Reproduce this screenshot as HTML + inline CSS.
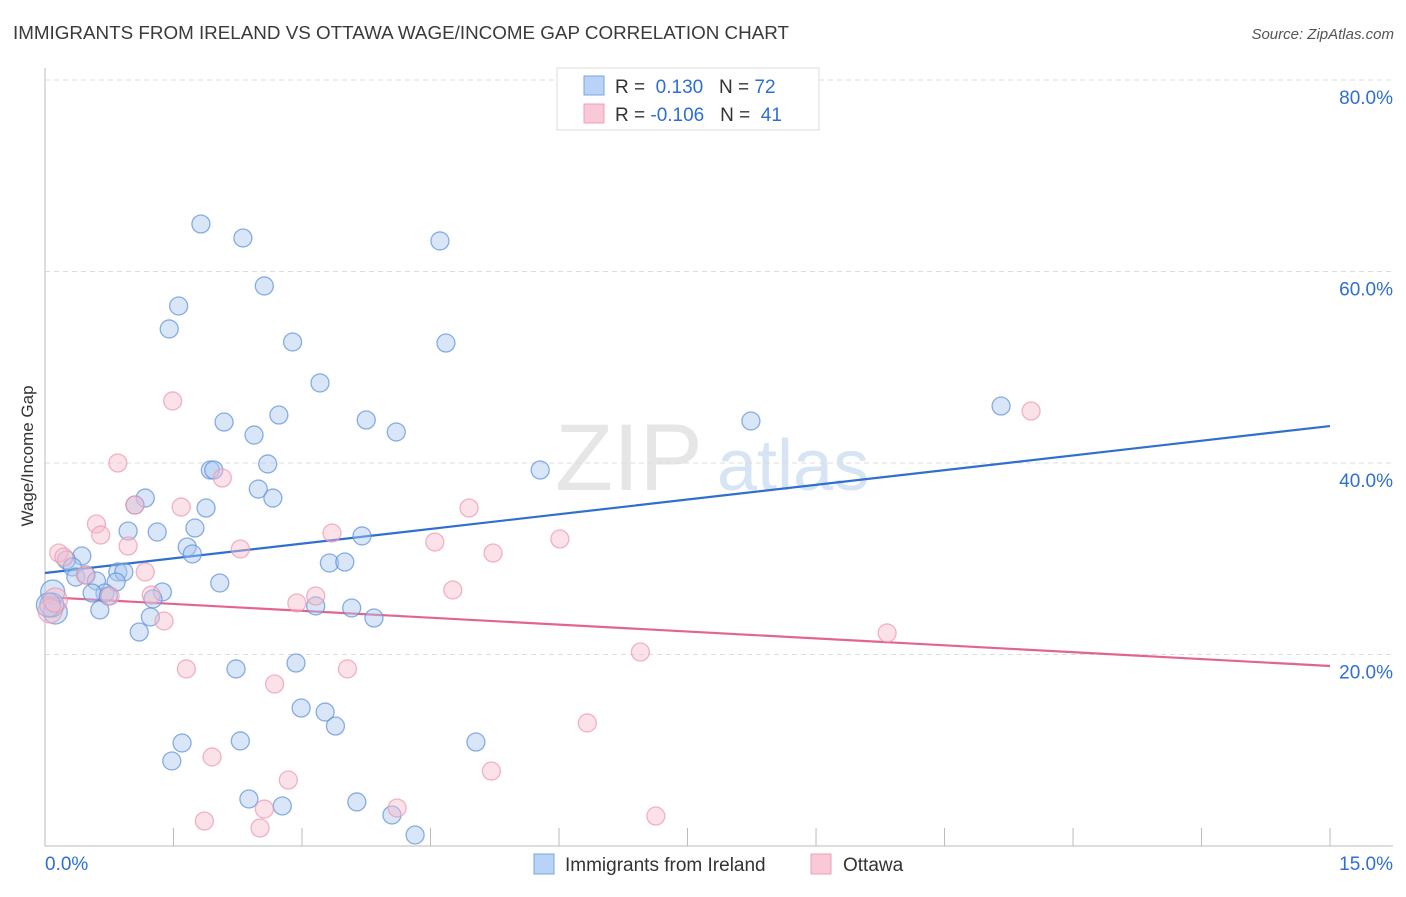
<!DOCTYPE html>
<html><head><meta charset="utf-8"><style>
body{margin:0;background:#fff;font-family:"Liberation Sans",sans-serif}
svg text{font-family:"Liberation Sans",sans-serif}
</style></head><body>
<svg id="chart" width="1406" height="892" viewBox="0 0 1406 892" xmlns="http://www.w3.org/2000/svg">
<text x="13" y="39" font-size="18.8" fill="#3a3a3a" textLength="776" lengthAdjust="spacingAndGlyphs">IMMIGRANTS FROM IRELAND VS OTTAWA WAGE/INCOME GAP CORRELATION CHART</text>
<text x="1394" y="39" font-size="15" fill="#555" text-anchor="end" font-style="italic">Source: ZipAtlas.com</text>
<text x="555" y="490" font-size="95" fill="#e6e6e6" font-family="Liberation Serif">ZIP</text>
<text x="717" y="490" font-size="72" fill="#d6e4f4">atlas</text>
<text transform="translate(33,456) rotate(-90)" font-size="17" fill="#333" text-anchor="middle">Wage/Income Gap</text>
<g id="grid"></g><g id="axes"></g><g id="trend"></g><g id="pts"></g>
<g>
<rect x="557" y="68" width="262" height="62" fill="#fff" stroke="#ddd"/>
<rect x="584" y="76" width="20" height="19" fill="#b8d3f5" stroke="#7aa6e0"/>
<rect x="584" y="104" width="20" height="19" fill="#f9c9d8" stroke="#f0a0b8"/>
<text x="615" y="93" font-size="19" fill="#333">R = <tspan fill="#2f6fd0">&#160;0.130</tspan>&#160;&#160;&#160;N = <tspan fill="#2f6fd0">72</tspan></text>
<text x="615" y="121" font-size="19" fill="#333">R = <tspan fill="#2f6fd0">-0.106</tspan>&#160;&#160;&#160;N = <tspan fill="#2f6fd0">&#160;41</tspan></text>
</g>
<g>
<rect x="534" y="854" width="20" height="20" fill="#b8d3f5" stroke="#7aa6e0"/>
<text x="565" y="871" font-size="19" fill="#333">Immigrants from Ireland</text>
<rect x="811" y="854" width="20" height="20" fill="#f9c9d8" stroke="#f0a0b8"/>
<text x="843" y="871" font-size="19" fill="#333">Ottawa</text>
</g>
</svg>
<script>
const blueX=[1.82,2.31,4.61,2.56,1.56,1.45,2.89,4.68,3.21,11.16,8.24,2.73,2.09,3.75,4.10,2.44,1.93,1.97,2.60,5.78,2.49,2.66,1.17,1.05,1.88,1.75,0.97,1.31,3.70,1.66,1.72,0.43,0.25,0.32,0.36,0.48,0.85,0.92,0.60,0.83,0.70,0.55,1.37,1.26,0.74,2.04,3.32,3.50,3.16,3.58,3.84,1.23,0.64,1.10,0.09,0.12,0.08,2.23,2.93,2.99,3.27,3.39,1.60,2.28,5.03,1.48,2.38,2.77,3.64,4.05,4.32,0.04];
const blueY=[64.96,63.50,63.19,58.49,56.40,54.0,52.64,52.53,48.36,45.95,44.39,45.01,44.28,44.49,43.24,42.92,39.27,39.27,39.90,39.27,37.28,36.34,36.34,35.61,35.30,33.21,32.90,32.79,32.38,31.23,30.50,30.29,29.87,29.14,28.09,28.30,28.62,28.62,27.68,27.57,26.42,26.42,26.53,25.80,26.11,27.47,29.56,29.66,25.07,24.86,23.81,23.92,24.65,22.35,26.53,24.44,25.17,18.49,19.11,14.41,13.99,12.53,10.76,10.97,10.86,8.88,4.91,4.18,4.60,3.24,1.15,25.17];
const pinkX=[1.49,11.51,0.85,2.07,1.05,1.59,4.95,0.60,0.65,3.35,0.97,2.28,4.55,6.01,5.23,0.16,0.22,0.47,1.17,4.76,0.76,1.24,3.16,2.94,1.39,0.06,9.83,6.95,3.53,1.65,2.68,6.33,1.95,5.21,2.84,2.56,4.11,1.86,2.51,7.13,0.12];
const pinkY=[46.48,45.43,40.0,38.43,35.61,35.40,35.30,33.63,32.48,32.69,31.33,31.02,31.75,32.06,30.60,30.60,30.18,28.30,28.62,26.74,26.11,26.21,26.11,25.38,23.50,24.54,22.25,20.26,18.49,18.49,16.92,12.85,9.30,7.83,6.89,3.86,3.97,2.61,1.88,3.13,25.69];
const blueTrend=[28.51,43.86];
const pinkTrend=[26.0,18.8];
const yTicks=[20,40,60,80];
const xTicks=[0,1.5,3,4.5,6,7.5,9,10.5,12,13.5,15];
const NS="http://www.w3.org/2000/svg";
const sx=v=>45+v*85.67, sy=v=>846-v*9.575;
function mk(t,a,p){const e=document.createElementNS(NS,t);for(const k in a)e.setAttribute(k,a[k]);document.getElementById(p).appendChild(e);return e;}
yTicks.forEach(v=>{
 const l=mk('line',{x1:45,x2:1393,y1:sy(v),y2:sy(v),stroke:'#ddd','stroke-dasharray':'5,4'},'grid');
 
 
 const t=mk('text',{x:1393,y:sy(v)+24,'font-size':19,fill:'#2f6fd0','text-anchor':'end'},'grid');
 t.textContent=v.toFixed(1)+'%';
 
 
});
const ax=mk('path',{d:'M45,68V846H1393',stroke:'#bbb',fill:'none'},'axes');


xTicks.forEach(v=>{
 const l=mk('line',{x1:sx(v),x2:sx(v),y1:828,y2:846,stroke:'#bbb'},'axes');
 
 
});
[[0,'start',45],[15,'end',1393]].forEach(([v,a,x])=>{
 const t=mk('text',{x:x,y:870,'font-size':19,fill:'#2f6fd0','text-anchor':a},'axes');
 t.textContent=v.toFixed(1)+'%';
 
 
});
function dots(X,Y,fill,stroke,name){
 X.forEach((x,i)=>{
  const big=x<0.15;
  const c=mk('circle',{cx:sx(x),cy:sy(Y[i]),r:big?12:9,fill:fill,'fill-opacity':0.45,stroke:stroke,'stroke-opacity':0.7,'stroke-width':1.3},'pts');
  
  
 });
}
dots(blueX,blueY,'#a8c8f0','#5a8fd8','ireland-point');
dots(pinkX,pinkY,'#f7bccd','#ec95b0','ottawa-point');
const t1=mk('line',{x1:sx(0),x2:sx(15),y1:sy(blueTrend[0]),y2:sy(blueTrend[1]),stroke:'#2f6fd0','stroke-width':2.2},'trend');


const t2=mk('line',{x1:sx(0),x2:sx(15),y1:sy(pinkTrend[0]),y2:sy(pinkTrend[1]),stroke:'#e3648f','stroke-width':2.2},'trend');


</script>
</body></html>
